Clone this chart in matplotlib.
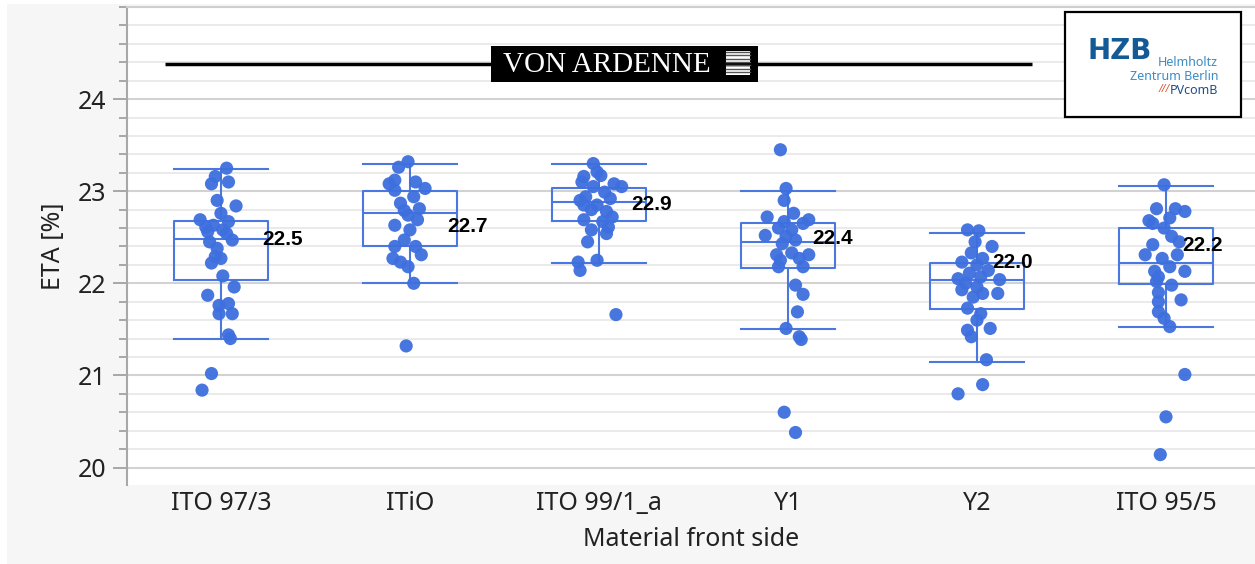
import matplotlib
matplotlib.use("Agg")
import matplotlib.pyplot as plt
from matplotlib.patches import Rectangle, Polygon
from matplotlib.ticker import MultipleLocator, FixedLocator

# categories and box statistics
materials = ["ITO 97/3", "ITiO", "ITO 99/1_a", "Y1", "Y2", "ITO 95/5"]
whis_lo = [21.40, 22.00, 22.22, 21.50, 21.15, 21.53]
q1 = [22.04, 22.40, 22.68, 22.17, 21.72, 21.99]
med = [22.48, 22.76, 22.88, 22.45, 22.04, 22.22]
q3 = [22.68, 23.00, 23.03, 22.65, 22.22, 22.60]
whis_hi = [23.24, 23.29, 23.29, 23.00, 22.55, 23.06]
mean_text = ["22.5", "22.7", "22.9", "22.4", "22.0", "22.2"]
mean_y = [22.48, 22.62, 22.86, 22.49, 22.23, 22.41]
mean_dx = [0.22, 0.20, 0.17, 0.13, 0.08, 0.085]
y_major = [20, 21, 22, 23, 24]

# individual cells: efficiency [%] and horizontal jitter (category units)
eta_ito973 = [23.25, 23.16, 23.10, 23.08, 22.90, 22.84, 22.76, 22.69, 22.63, 22.67,
              22.58, 22.56, 22.47, 22.45, 22.38, 22.27, 22.22, 22.08, 21.96, 21.87,
              21.76, 21.78, 21.67, 21.67, 21.44, 21.40, 21.02, 20.84, 22.61, 22.54, 22.29]
jit_ito973 = [0.03, -0.03, 0.04, -0.05, -0.02, 0.08, 0.00, -0.11, -0.04, 0.04,
              0.01, -0.07, 0.06, -0.06, -0.02, 0.00, -0.05, 0.01, 0.07, -0.07,
              -0.01, 0.04, -0.01, 0.06, 0.04, 0.05, -0.05, -0.10, -0.08, 0.03, -0.03]

eta_itio = [23.32, 23.26, 23.12, 23.10, 23.03, 23.01, 22.94, 22.87, 22.81, 22.74,
            22.69, 22.63, 22.58, 22.47, 22.40, 22.40, 22.31, 22.27, 22.23, 22.18,
            22.00, 21.32, 23.08, 22.79]
jit_itio = [-0.01, -0.06, -0.08, 0.03, 0.08, -0.08, 0.02, -0.05, 0.05, -0.01,
            0.04, -0.08, 0.00, -0.03, 0.03, -0.08, 0.06, -0.09, -0.05, -0.01,
            0.02, -0.02, -0.11, -0.03]

eta_ito991 = [23.30, 23.21, 23.16, 23.17, 23.10, 23.08, 23.05, 23.05, 22.99, 22.94,
              22.92, 22.90, 22.85, 22.85, 22.80, 22.78, 22.72, 22.69, 22.67, 22.61,
              22.58, 22.54, 22.45, 22.25, 22.23, 22.14, 21.66]
jit_ito991 = [-0.03, -0.01, -0.08, 0.01, -0.09, 0.08, 0.12, -0.03, 0.03, -0.07,
              0.06, -0.10, -0.01, -0.08, -0.04, 0.04, 0.07, -0.08, 0.02, 0.05,
              -0.04, 0.04, -0.06, -0.01, -0.11, -0.10, 0.09]

eta_y1 = [23.45, 23.03, 22.90, 22.72, 22.76, 22.69, 22.67, 22.65, 22.60, 22.58,
          22.52, 22.51, 22.47, 22.43, 22.31, 22.33, 22.31, 22.27, 22.25, 22.18,
          22.18, 21.98, 21.88, 21.69, 21.51, 21.42, 21.39, 20.60, 20.38]
jit_y1 = [-0.04, -0.01, -0.02, -0.11, 0.03, 0.11, -0.02, 0.08, -0.05, 0.02,
          -0.12, -0.01, 0.04, -0.03, -0.06, 0.02, 0.11, 0.06, -0.04, -0.05,
          0.08, 0.04, 0.08, 0.05, -0.01, 0.06, 0.07, -0.02, 0.04]

eta_y2 = [22.58, 22.57, 22.45, 22.40, 22.33, 22.27, 22.23, 22.20, 22.14, 22.11,
          22.05, 22.07, 22.04, 22.00, 21.96, 21.93, 21.89, 21.89, 21.85, 21.73,
          21.67, 21.60, 21.51, 21.49, 21.42, 21.17, 20.90, 20.80]
jit_y2 = [-0.05, 0.01, -0.01, 0.08, -0.03, 0.03, -0.08, 0.00, 0.06, -0.04,
          -0.10, 0.02, 0.12, -0.06, 0.00, -0.08, 0.03, 0.11, -0.02, -0.05,
          0.02, 0.00, 0.07, -0.05, -0.03, 0.05, 0.03, -0.10]

eta_ito955 = [23.07, 22.81, 22.81, 22.78, 22.71, 22.65, 22.60, 22.51, 22.42, 22.31,
              22.31, 22.27, 22.18, 22.13, 22.13, 22.07, 21.98, 22.02, 21.82, 21.80,
              21.69, 21.62, 21.53, 21.01, 20.55, 20.14, 22.68, 22.45, 21.90]
jit_ito955 = [-0.01, -0.05, 0.05, 0.10, 0.02, -0.07, -0.01, 0.03, -0.07, 0.06,
              -0.11, -0.02, 0.02, -0.06, 0.10, -0.04, 0.03, -0.05, 0.08, -0.04,
              -0.04, -0.01, 0.02, 0.10, 0.00, -0.03, -0.09, 0.07, -0.04]

eta_all = [eta_ito973, eta_itio, eta_ito991, eta_y1, eta_y2, eta_ito955]
jit_all = [jit_ito973, jit_itio, jit_ito991, jit_y1, jit_y2, jit_ito955]

box_col = "#4a78e0"
dot_col = "#3e6fde"
font = "Noto Sans"

fig = plt.figure(figsize=(12.55, 5.64), dpi=100, facecolor="white")
fig.patches.append(Rectangle((7 / 1255, 0), 1, 1 - 4 / 564, transform=fig.transFigure,
                             facecolor="#f6f6f6", edgecolor="none", zorder=-10))

ax = fig.add_axes([127 / 1255, 1 - 485 / 564, 1 - 127 / 1255, (485 - 7) / 564])
ax.set_facecolor("white")

stats = []
for i in range(len(materials)):
    stats.append(dict(whislo=whis_lo[i], q1=q1[i], med=med[i], q3=q3[i],
                      whishi=whis_hi[i], fliers=[]))
lp = dict(color=box_col, linewidth=1.5)
ax.bxp(stats, positions=range(len(materials)), widths=0.5, capwidths=0.5,
       boxprops=lp, medianprops=lp, whiskerprops=lp, capprops=lp,
       showfliers=False, manage_ticks=False, zorder=3)

for i, (vals, jit) in enumerate(zip(eta_all, jit_all)):
    ax.scatter([i + d for d in jit], vals, s=90, color=dot_col, edgecolors="none",
               alpha=0.95, zorder=4)
    ax.text(i + mean_dx[i], mean_y[i], mean_text[i], fontsize=15, fontweight="bold",
            family="Liberation Sans", va="center", ha="left", color="black", zorder=5)

ax.set_xlim(-0.497, 5.471)
ax.set_ylim(19.81, 25.0)
ax.yaxis.set_major_locator(FixedLocator(y_major))
ax.yaxis.set_minor_locator(MultipleLocator(0.2))
ax.grid(which="minor", axis="y", color="#e8e8e8", linewidth=1.3, zorder=0)
ax.grid(which="major", axis="y", color="#d2d2d2", linewidth=1.5, zorder=0)
ax.set_axisbelow(True)

ax.set_xticks(range(len(materials)))
ax.set_xticklabels(materials, family=font, fontsize=18, color="#222222")
ax.tick_params(axis="x", length=0, pad=4)
ax.tick_params(axis="y", which="major", length=10, width=1.2, color="#9a9a9a",
               labelsize=18, labelcolor="#222222", pad=5)
ax.tick_params(axis="y", which="minor", length=6, width=1.2, color="#9a9a9a")
for lab in ax.get_yticklabels():
    lab.set_family(font)

ax.spines["right"].set_visible(False)
ax.spines["bottom"].set_visible(False)
ax.spines["left"].set_color("#a8a8a8")
ax.spines["left"].set_linewidth(1.5)
ax.spines["top"].set_color("#cfcfcf")
ax.spines["top"].set_linewidth(1.5)

ax.set_ylabel("ETA [%]", family=font, fontsize=18, color="#222222", labelpad=8)
ax.set_xlabel("Material front side", family=font, fontsize=18, color="#222222", labelpad=8)

# overlay in pixel coordinates for the logos
ov = fig.add_axes([0, 0, 1, 1], facecolor="none", zorder=10)
ov.set_xlim(0, 1255)
ov.set_ylim(564, 0)
ov.axis("off")

ov.plot([165, 1032], [64, 64], color="black", linewidth=2.5, solid_capstyle="butt")
ov.add_patch(Rectangle((491, 46), 267, 36, facecolor="black", edgecolor="none"))
ov.text(607, 65, "VON ARDENNE", family="Liberation Serif", fontsize=21, color="white",
        ha="center", va="center")
ov.add_patch(Rectangle((726, 51), 24, 24, facecolor="white", edgecolor="none"))
for k in range(7):
    yy = 52 + k * 3.3
    ov.plot([726, 750], [yy, yy], color="#555555", linewidth=1.0)
ov.add_patch(Polygon([[726, 75], [750, 51], [750, 75]], facecolor="white", edgecolor="none"))

ov.add_patch(Rectangle((1065, 12), 176, 105, facecolor="white", edgecolor="black", linewidth=1.6))
ov.text(1120, 51, "HZB", family="DejaVu Sans", fontweight="bold", fontsize=20,
        color="#145a96", ha="center", va="center")
ov.text(1218, 62, "Helmholtz", family=font, fontsize=9, color="#3a8cc4", ha="right", va="center")
ov.text(1218, 76, "Zentrum Berlin", family=font, fontsize=9, color="#3a8cc4", ha="right", va="center")
ov.text(1218, 90, "PVcomB", family=font, fontsize=9, fontweight="bold", color="#1d4f8c",
        ha="right", va="center")
ov.text(1170, 90, "///", family=font, fontsize=7.5, fontweight="bold", color="#d9532b",
        ha="right", va="center", style="italic")

fig.savefig("out.png", dpi=100, facecolor=fig.get_facecolor())
